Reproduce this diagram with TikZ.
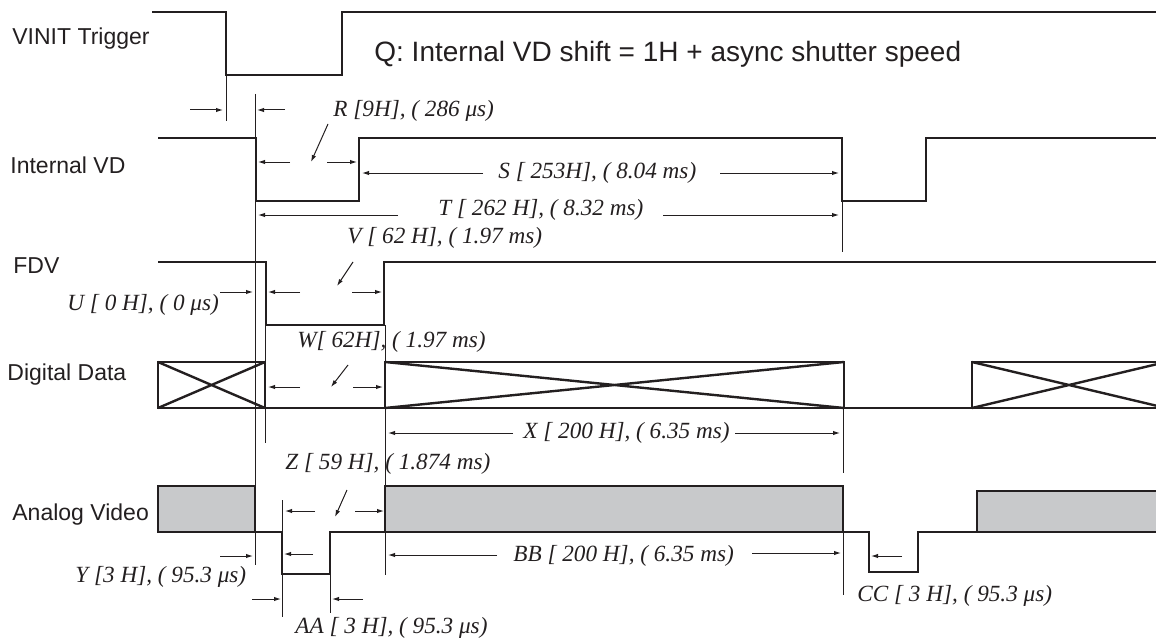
\documentclass[tikz,border=0pt]{standalone}
\usepackage{fontspec}
\setmainfont{Liberation Sans}
\newfontfamily\serifit{Liberation Serif}
\usetikzlibrary{arrows.meta}
\definecolor{ink}{HTML}{231F20}
\definecolor{vidfill}{HTML}{C8C9CB}
\begin{document}
\begin{tikzpicture}[x=0.5pt,y=-0.5pt,
  sig/.style={line width=1.2pt, draw=ink, line join=miter},
  thinln/.style={line width=0.5pt, draw=ink},
  dim/.style={line width=0.5pt, draw=ink, -{Latex[length=3.5pt,width=2.2pt]}},
  lbl/.style={anchor=base west, inner sep=0pt, text=ink, font=\fontsize{11.5}{13}\selectfont},
  qlbl/.style={anchor=base west, inner sep=0pt, text=ink, font=\fontsize{14}{16}\selectfont},
  ann/.style={anchor=base west, inner sep=0pt, text=ink, font=\serifit\itshape\fontsize{11.6}{13}\selectfont}]
\useasboundingbox (0,0) rectangle (1156,642);

% signal labels
\node[lbl] (lvinit) at (12,45) {VINIT Trigger};
\node[lbl] (livd) at (10,173) {Internal VD};
\node[lbl] (lfdv) at (13,273) {FDV};
\node[lbl] (ldd) at (7,380) {Digital Data};
\node[lbl] (lav) at (12,520) {Analog Video};
\node[qlbl] (lq) at (374,62) {Q: Internal VD shift = 1H + async shutter speed};

% VINIT trigger
\draw[sig] (152,12) -- (226,12) -- (226,75) -- (342,75) -- (342,12) -- (1156,12);
\draw[thinln] (226,75) -- (226,121);
\draw[dim] (190,110) -- (223,110);
\draw[dim] (285,110) -- (257,110);
\draw[thinln] (255,94) -- (255,565);

% Internal VD
\draw[sig] (158,138) -- (256,138) -- (256,201) -- (359,201) -- (359,138) -- (842,138) -- (842,201) -- (926,201) -- (926,138) -- (1156,138);
\draw[thinln] (842,201) -- (842,252);
\node[ann] (lr) at (333,117) {R [9H], ( 286 μs)};
\draw[dim] (328,124) -- (311,162);
\draw[dim] (290,162) -- (258,162);
\draw[dim] (327,162) -- (357,162);
\node[ann] (ls) at (498,178) {S [ 253H], ( 8.04 ms)};
\draw[dim] (483,173) -- (362,173);
\draw[dim] (720,173) -- (839,173);
\node[ann] (lt) at (438,215) {T [ 262 H], ( 8.32 ms)};
\draw[dim] (398,215) -- (258,215);
\draw[dim] (663,215) -- (839,215);

% FDV
\draw[sig] (158,262) -- (266,262) -- (266,325) -- (384,325) -- (384,262) -- (1156,262);
\draw[thinln] (265,325) -- (265,443);
\draw[thinln] (385,325) -- (385,575);
\node[ann] (lu) at (67,310) {U [ 0 H], ( 0 μs)};
\draw[dim] (220,292) -- (253,292);
\node[ann] (lv) at (347,243) {V [ 62 H], ( 1.97 ms)};
\draw[dim] (353,262) -- (337,286);
\draw[dim] (300,292) -- (268,292);
\draw[dim] (352,292) -- (382,292);

% Digital data
\draw[sig] (158,362) rectangle (265,408);
\draw[sig] (158,362) -- (265,408) (158,408) -- (265,362);
\draw[sig] (265,408) -- (385,408);
\draw[sig] (385,362) rectangle (844,408);
\draw[sig] (385,362) -- (844,408) (385,408) -- (844,362);
\draw[sig] (844,408) -- (972,408);
\draw[sig] (1170,362) -- (972,362) -- (972,408) -- (1170,408);
\draw[sig] (972,362) -- (1166,408) (972,408) -- (1166,362);
\draw[thinln] (843,408) -- (843,473);
\node[ann] (lw) at (297,347) {W[ 62H], ( 1.97 ms)};
\draw[dim] (348,365) -- (331,387);
\draw[dim] (300,387) -- (268,387);
\draw[dim] (353,387) -- (383,387);
\node[ann] (lx) at (523,438) {X [ 200 H], ( 6.35 ms)};
\draw[dim] (513,433) -- (388,433);
\draw[dim] (735,433) -- (840,433);

% Analog video
\draw[sig, fill=vidfill] (158,486) rectangle (255,532);
\draw[sig] (255,532) -- (282,532) -- (282,574) -- (330,574) -- (330,532) -- (385,532);
\draw[sig, fill=vidfill] (385,486) rectangle (843,532);
\draw[sig] (843,532) -- (869,532) -- (869,572) -- (918,572) -- (918,532) -- (977,532);
\draw[sig, fill=vidfill] (1170,491) -- (977,491) -- (977,532) -- (1170,532);
\draw[thinln] (282,500) -- (282,617);
\draw[thinln] (330,574) -- (330,613);
\draw[thinln] (843,532) -- (843,595);
\node[ann] (lz) at (285,469) {Z [ 59 H], ( 1.874 ms)};
\draw[dim] (347,490) -- (335,517);
\draw[dim] (315,511) -- (285,511);
\draw[dim] (355,511) -- (384,511);
\draw[dim] (313,554) -- (284,554);
\node[ann] (ly) at (75,582) {Y [3 H], ( 95.3 μs)};
\draw[dim] (220,556) -- (253,556);
\node[ann] (lbb) at (513,561) {BB [ 200 H], ( 6.35 ms)};
\draw[dim] (497,555) -- (388,555);
\draw[dim] (752,553) -- (841,553);
\node[ann] (laa) at (295,633) {AA [ 3 H], ( 95.3 μs)};
\draw[dim] (252,599) -- (281,599);
\draw[dim] (363,599) -- (332,599);
\node[ann] (lcc) at (857,601) {CC [ 3 H], ( 95.3 μs)};
\draw[dim] (902,556) -- (871,556);
\end{tikzpicture}
\end{document}
